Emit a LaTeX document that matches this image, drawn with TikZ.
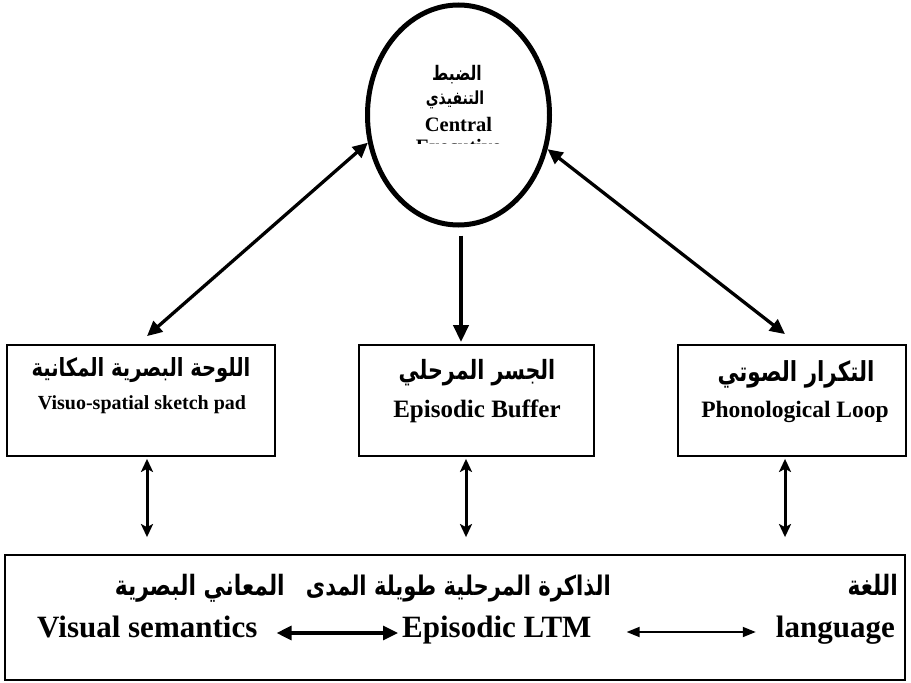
\documentclass[tikz,border=0pt]{standalone}
\usepackage{fontspec}
\setmainfont{Liberation Serif}
\newfontfamily\arabicfont[Script=Arabic,FakeStretch=0.78]{DejaVu Sans}
\TeXXeTstate=1
\usetikzlibrary{arrows.meta,shapes.geometric}
\newcommand{\fs}[1]{\fontsize{#1bp}{#1bp}\selectfont}
\begin{document}
\begin{tikzpicture}[x=1bp,y=-1bp,
  boxst/.style={draw, line width=1.8bp, inner sep=0pt},
  lat/.style={inner sep=0pt, font=\bfseries\fs{#1}},
  ar/.style={inner sep=0pt, font=\arabicfont\bfseries\fs{#1}},
  darr/.style={line width=3.3bp, {Triangle[length=15bp,width=14bp]}-{Triangle[length=15bp,width=14bp]}},
  varr/.style={line width=3bp, {Stealth[length=13bp,width=12bp,inset=3bp]}-{Stealth[length=13bp,width=12bp,inset=3bp]}},
  sarr/.style={line width=3.8bp, -{Triangle[length=17bp,width=15bp]}},
  larr/.style={line width=3.2bp, {Triangle[length=15bp,width=14bp]}-{Triangle[length=15bp,width=14bp]}},
  tarr/.style={line width=1.8bp, {Triangle[length=13bp,width=10bp]}-{Triangle[length=13bp,width=10bp]}}]
\useasboundingbox (0,0) rectangle (911,683);

% central executive
\node[draw, ellipse, line width=5bp, minimum width=182bp, minimum height=220bp] (ce) at (458.5,115) {};
\node[ar=20] (ce1) at (457,75) {\beginR الضبط\endR};
\node[ar=18] (ce2) at (455,100) {\beginR التنفيذي\endR};
\node[lat=20.5, anchor=base] (ce3) at (458.5,132) {Central};
\begin{scope}
\clip (380,100) rectangle (540,144);
\node[lat=20.5, anchor=base] (ce4) at (458.5,154) {Executive};
\end{scope}

% three boxes
\node[boxst, minimum width=268bp, minimum height=111bp] (vs) at (141,400.5) {};
\node[boxst, minimum width=235bp, minimum height=111bp] (eb) at (476.5,400.5) {};
\node[boxst, minimum width=228bp, minimum height=111bp] (pl) at (792,400.5) {};

\node[ar=25] (vsA) at (141,370) {\beginR اللوحة البصرية المكانية\endR};
\node[lat=20, anchor=base] (vsL) at (142,409) {Visuo-spatial sketch pad};
\node[ar=26.5] (ebA) at (477,373) {\beginR الجسر المرحلي\endR};
\node[lat=25, anchor=base] (ebL) at (477,417) {Episodic Buffer};
\node[ar=27.5] (plA) at (796,374) {\beginR التكرار الصوتي\endR};
\node[lat=23.5, anchor=base] (plL) at (795,417) {Phonological Loop};

% bottom box
\node[boxst, minimum width=900bp, minimum height=125bp] (ltm) at (455,617.5) {};
\node[ar=28, anchor=base east] (a1) at (285,595) {\beginR المعاني البصرية\endR};
\node[ar=27, anchor=base east] (a2) at (611,595) {\beginR الذاكرة المرحلية طويلة المدى\endR};
\node[ar=28, anchor=base east] (a3) at (898,595) {\beginR اللغة\endR};
\node[lat=31, anchor=base west] (vsem) at (37,637) {Visual semantics};
\node[lat=31, anchor=base west] (eltm) at (402,637) {Episodic LTM};
\node[lat=31, anchor=base east] (lang) at (895,637) {language};

% connectors
\draw[sarr, shorten <=8bp, shorten >=2bp] ([xshift=2.5bp]ce.south) -- ([xshift=2.5bp]ce.south |- eb.north);
\draw[darr] (ce.197) -- ([xshift=6bp,yshift=8bp]vs.north);
\draw[darr] (ce.339) -- ([xshift=-7bp,yshift=10bp]pl.north);
\draw[varr, shorten <=2bp, shorten >=17bp] ([xshift=6bp]vs.south) -- ([xshift=6bp]vs.south |- ltm.north);
\draw[varr, shorten <=2bp, shorten >=17bp] ([xshift=-10.5bp]eb.south) -- ([xshift=-10.5bp]eb.south |- ltm.north);
\draw[varr, shorten <=2bp, shorten >=17bp] ([xshift=-7bp]pl.south) -- ([xshift=-7bp]pl.south |- ltm.north);
\draw[larr, shorten <=19bp, shorten >=4bp] ([yshift=4bp]vsem.base east) -- ([yshift=4bp]eltm.base west);
\draw[tarr, shorten <=35bp, shorten >=20bp] ([yshift=5bp]eltm.base east) -- ([yshift=5bp]lang.base west);
\end{tikzpicture}
\end{document}
